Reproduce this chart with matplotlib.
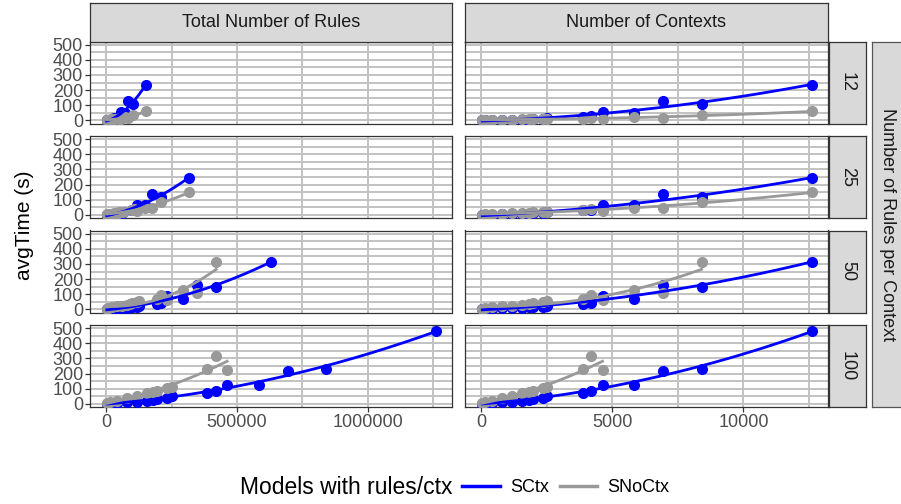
import numpy as np
import matplotlib
matplotlib.use("Agg")
import matplotlib.pyplot as plt
from matplotlib.lines import Line2D

plt.rcParams['font.family'] = ['Liberation Sans', 'DejaVu Sans']

# ---------------- data ----------------
rules_per_ctx = [12, 25, 50, 100]
contexts = [30, 150, 400, 780, 1170, 1550, 1800, 1950, 2330, 2500,
            3860, 4190, 4620, 5830, 6940, 8400, 12600]
nan = np.nan
sctx = {
    12:  [1, 1, 2, 3, 4, 5, 6, 8, 12, 15, 24, 30, 58, 52, 128, 106, 235],
    25:  [1, 2, 3, 4, 6, 7, 8, 10, 14, 18, 30, 32, 68, 65, 140, 118, 242],
    50:  [1, 3, 5, 8, 10, 12, 14, 16, 18, 22, 34, 40, 90, 72, 160, 150, 310],
    100: [2, 5, 8, 12, 16, 21, 25, 30, 42, 52, 75, 88, 122, 128, 220, 232, 478],
}
snoctx = {
    12:  [2, 3, 4, 5, 6, 7, 8, 9, 10, 11, 12, 13, 11, 22, 18, 33, 60],
    25:  [2, 4, 6, 9, 12, 14, 16, 18, 20, 22, 30, 40, 25, 46, 46, 88, 148],
    50:  [4, 8, 14, 20, 26, 30, 34, 40, 52, 55, 72, 96, 62, 125, 108, 315, nan],
    100: [5, 12, 20, 38, 55, 70, 82, 85, 105, 110, 232, 318, 222, nan, nan, nan, nan],
}
series_names = ["SCtx", "SNoCtx"]
series_colors = ["#0000FF", "#999999"]
col_titles = ["Total Number of Rules", "Number of Contexts"]
x_major = [[0, 500000, 1000000], [0, 5000, 10000]]
x_minor = [[250000, 750000, 1250000], [2500, 7500, 12500]]
x_labels = [["0", "500000", "1000000"], ["0", "5000", "10000"]]
y_major = [0, 100, 200, 300, 400, 500]
y_minor = [50, 150, 250, 350, 450]

W_PX, H_PX = 901, 504
fig = plt.figure(figsize=(W_PX / 100, H_PX / 100), dpi=100)


def rect(x0, y0, x1, y1):
    return [x0 / W_PX, 1 - y1 / H_PX, (x1 - x0) / W_PX, (y1 - y0) / H_PX]


cols = [(90, 452), (465, 828)]
rows = [(41.5, 123.5), (136, 218), (230.5, 312.5), (325, 407)]
grid_c = "#C2C2C2"
dark = "#333333"
strip_fill = "#D9D9D9"

ctx_arr = np.array(contexts, float)
for ri, r in enumerate(rules_per_ctx):
    for ci in range(2):
        ax = fig.add_axes(rect(cols[ci][0], rows[ri][0], cols[ci][1], rows[ri][1]))
        xs_all = ctx_arr * r if ci == 0 else ctx_arr
        xmax = 12600 * 100 if ci == 0 else 12600
        ax.set_xlim(-0.05 * xmax, 1.05 * xmax)
        ax.set_ylim(-20, 520)
        ax.set_xticks(x_major[ci])
        ax.set_xticks(x_minor[ci], minor=True)
        ax.set_yticks(y_major)
        ax.set_yticks(y_minor, minor=True)
        ax.grid(True, which='both', color=grid_c, linewidth=1.4)
        ax.set_axisbelow(True)
        for s in ax.spines.values():
            s.set_color(dark); s.set_linewidth(0.9)
        ax.tick_params(which='minor', length=0)
        ax.tick_params(which='major', color=dark, length=3.5, width=0.9,
                       labelsize=13, labelcolor="#4D4D4D", pad=1.5)
        if ci == 0:
            ax.set_yticklabels([str(v) for v in y_major])
        else:
            ax.tick_params(axis='y', length=0, labelleft=False)
        if ri == 3:
            ax.set_xticklabels(x_labels[ci])
        else:
            ax.tick_params(axis='x', length=0, labelbottom=False)

        data = [sctx[r], snoctx[r]]
        for vals, col in zip(data, series_colors):
            v = np.array(vals, float)
            m = ~np.isnan(v)
            ax.plot(xs_all[m], v[m], 'o', color=col, markersize=7, zorder=3)
        for vals, col in zip(data, series_colors):
            v = np.array(vals, float)
            m = ~np.isnan(v)
            xx = xs_all[m]
            coef = np.polyfit(xx, v[m], 2)
            grid = np.linspace(xx.min(), xx.max(), 200)
            ax.plot(grid, np.polyval(coef, grid), '-', color=col, linewidth=2.0, zorder=4)

# top strips
for ci in range(2):
    sax = fig.add_axes(rect(cols[ci][0], 3, cols[ci][1], 41.5))
    sax.set_facecolor(strip_fill)
    sax.set_xticks([]); sax.set_yticks([])
    for s in sax.spines.values():
        s.set_color(dark); s.set_linewidth(0.9)
    sax.text(0.5, 0.5, col_titles[ci], ha='center', va='center', fontsize=13,
             color="#1A1A1A", transform=sax.transAxes)

# right strips
for ri, r in enumerate(rules_per_ctx):
    sax = fig.add_axes(rect(829, rows[ri][0], 866, rows[ri][1]))
    sax.set_facecolor(strip_fill)
    sax.set_xticks([]); sax.set_yticks([])
    for s in sax.spines.values():
        s.set_color(dark); s.set_linewidth(0.9)
    sax.text(0.5, 0.5, str(r), ha='center', va='center', fontsize=13, rotation=270,
             color="#1A1A1A", transform=sax.transAxes)

# outer row label box
oax = fig.add_axes(rect(872, 41.5, 905, 407))
oax.set_facecolor(strip_fill)
oax.set_xticks([]); oax.set_yticks([])
for s in oax.spines.values():
    s.set_color("#555555"); s.set_linewidth(0.9)
oax.text(0.47, 0.5, "Number of Rules per Context", ha='center', va='center',
         fontsize=13, rotation=270, color="#1A1A1A", transform=oax.transAxes)

# y label
fig.text(25 / W_PX, 1 - 225 / H_PX, "avgTime (s)", rotation=90, ha='center',
         va='center', fontsize=15)

# legend
fig.text(240 / W_PX, 1 - 488 / H_PX, "Models with rules/ctx", ha='left',
         va='center', fontsize=16.5)
handles = [Line2D([0], [0], color=c, linewidth=2.5) for c in series_colors]
fig.legend(handles, series_names, ncol=2, loc='center left',
           bbox_to_anchor=(462 / W_PX, 1 - 488 / H_PX), frameon=False,
           fontsize=13, handlelength=2.1, handletextpad=0.55,
           columnspacing=0.6, borderaxespad=0, borderpad=0)

fig.savefig("out.png", dpi=100)
